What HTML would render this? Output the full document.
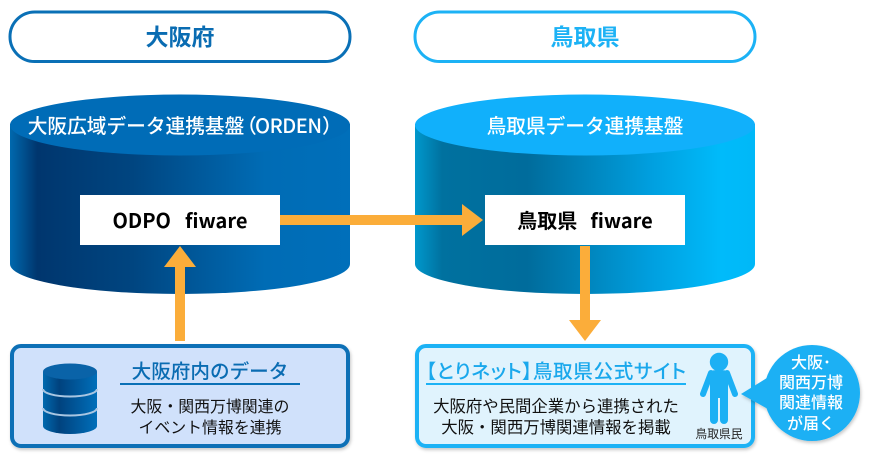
<!DOCTYPE html>
<html><head><meta charset="utf-8"><style>
html,body{margin:0;padding:0;background:#fff;width:870px;height:462px;overflow:hidden}
svg{display:block}
text{font-family:"Liberation Sans","Noto Sans CJK JP",sans-serif;text-anchor:middle}
.jp{font-family:"Noto Sans CJK JP","Liberation Sans",sans-serif}
</style></head><body>
<svg width="870" height="462" viewBox="0 0 870 462" xmlns="http://www.w3.org/2000/svg">
<defs>
<linearGradient id="g1" x1="0" x2="1" y1="0" y2="0">
<stop offset="0" stop-color="#0069ae"/><stop offset="0.08" stop-color="#00366e"/><stop offset="0.36" stop-color="#004580"/><stop offset="0.75" stop-color="#006cb5"/><stop offset="1" stop-color="#006fba"/></linearGradient>
<linearGradient id="g2" x1="0" x2="1" y1="0" y2="0">
<stop offset="0" stop-color="#0098cc"/><stop offset="0.08" stop-color="#00719f"/><stop offset="0.33" stop-color="#006c9c"/><stop offset="0.7" stop-color="#00a0e0"/><stop offset="0.9" stop-color="#00bbfa"/><stop offset="1" stop-color="#00b8f8"/></linearGradient>
<linearGradient id="g3" x1="0" x2="1" y1="0" y2="0">
<stop offset="0" stop-color="#0069ae"/><stop offset="0.3" stop-color="#00427e"/><stop offset="1" stop-color="#006fba"/></linearGradient>
<filter id="s" x="-5%" y="-10%" width="110%" height="125%"><feDropShadow dx="1" dy="2" stdDeviation="1.5" flood-color="#000" flood-opacity="0.22"/></filter>
</defs>

<rect x="10" y="12" width="340" height="49.500" rx="24.700" fill="#fff" stroke="#0a70b6" stroke-width="3"/>
<text x="180" y="45" class="jp" font-size="23" font-weight="700" fill="#0a6cb2">大阪府</text>
<rect x="415" y="12" width="340" height="49.500" rx="24.700" fill="#fff" stroke="#1cb2f5" stroke-width="3"/>
<text x="585" y="45" class="jp" font-size="23" font-weight="700" fill="#1cb2f5">鳥取県</text>

<path d="M10 124V264A170 30 0 0 0 350 264V124Z" fill="url(#g1)"/>
<ellipse cx="180" cy="125" rx="170" ry="30.500" fill="#006cb7"/>
<g class="jp" font-size="19.700" font-weight="500" fill="#fff">
<text x="136" y="133" class="jp">大阪広域データ連携基盤</text>
<text x="237" y="133" class="jp" style="text-anchor:start">（</text>
<text x="255" y="133" class="jp" style="text-anchor:start" textLength="67" font-size="20">ORDEN</text>
<text x="322" y="133" class="jp" style="text-anchor:start">）</text>
</g>

<path d="M415 124V264A170 30 0 0 0 755 264V124Z" fill="url(#g2)"/>
<ellipse cx="585" cy="125" rx="170" ry="30.500" fill="#11b0fb"/>
<text x="585" y="133" class="jp" font-size="19.700" font-weight="500" fill="#fff">鳥取県データ連携基盤</text>

<rect x="80" y="195" width="200" height="50" fill="#fff"/>
<rect x="485" y="195" width="200" height="50" fill="#fff"/>
<text x="180" y="228" class="jp" font-size="20" font-weight="700" fill="#000" xml:space="preserve" style="word-spacing:2.500px">ODPO  fiware</text>
<text x="585" y="228" class="jp" font-size="20" font-weight="700" fill="#000" xml:space="preserve" style="word-spacing:2px">鳥取県  fiware</text>

<g fill="#fbad3a">
<path d="M280 215H462V204L483 220L462 236V225H280Z"/>
<path d="M175 341V267H164L180 246L196 267H185V341Z"/>
<path d="M580 246H590V320H601L585 341L569 320H580Z"/>
</g>

<rect x="12" y="346" width="336" height="100" rx="9" fill="#d0e1fb" stroke="#0a70b6" stroke-width="4" filter="url(#s)"/>
<path d="M43 372V426A27 8 0 0 0 97 426V372Z" fill="url(#g3)"/>
<ellipse cx="70" cy="371.500" rx="27" ry="8" fill="#0a63a8"/>
<path d="M43 389A27 7.500 0 0 0 97 389M43 408A27 7.500 0 0 0 97 408" fill="none" stroke="#a9c6e2" stroke-width="2"/>
<text x="210" y="378" class="jp" font-size="19.600" font-weight="500" fill="#0a6cb2">大阪府内のデータ</text>
<rect x="120" y="383" width="180" height="2" fill="#0a70b6"/>
<text x="210" y="412" class="jp" font-size="15.900" fill="#111">大阪・関西万博関連の</text>
<text x="210" y="433" class="jp" font-size="15.900" fill="#111">イベント情報を連携</text>

<rect x="417" y="346" width="336" height="100" rx="9" fill="#e0f3fd" stroke="#1cb2f5" stroke-width="4" filter="url(#s)"/>
<text x="426" y="378" class="jp" font-size="19.600" font-weight="500" fill="#1aa8ec" textLength="260" lengthAdjust="spacing" style="text-anchor:start;font-feature-settings:'palt'">【とりネット】鳥取県公式サイト</text>
<rect x="426" y="383" width="260" height="2" fill="#1cb2f5"/>
<text x="556" y="412" class="jp" font-size="16.400" fill="#111">大阪府や民間企業から連携された</text>
<text x="556" y="433" class="jp" font-size="16.400" fill="#111">大阪・関西万博関連情報を掲載</text>

<g fill="#1cb0f4">
<circle cx="719" cy="362" r="9.200"/>
<path d="M709 371Q719 369 729 371Q728 378 728 388V420A4 4 0 0 1 720 420V398H718V420A4 4 0 0 1 710 420V388Q710 378 709 371Z"/>
</g>
<path d="M711 373L703 394M727 373L735 394" fill="none" stroke="#1cb0f4" stroke-width="6" stroke-linecap="round"/>
<text x="719" y="438" class="jp" font-size="11.800" fill="#222">鳥取県民</text>

<g filter="url(#s)">
<circle cx="812" cy="393" r="48" fill="#1cb0f4"/>
<path d="M741 394L775 373L775 413Z" fill="#1cb0f4"/>
</g>
<g class="jp" font-size="16" font-weight="500" fill="#fff">
<text x="811" y="368" class="jp">大阪･</text>
<text x="811" y="388" class="jp">関西万博</text>
<text x="811" y="408" class="jp">関連情報</text>
<text x="811" y="429" class="jp">が届く</text>
</g>
</svg>
</body></html>
